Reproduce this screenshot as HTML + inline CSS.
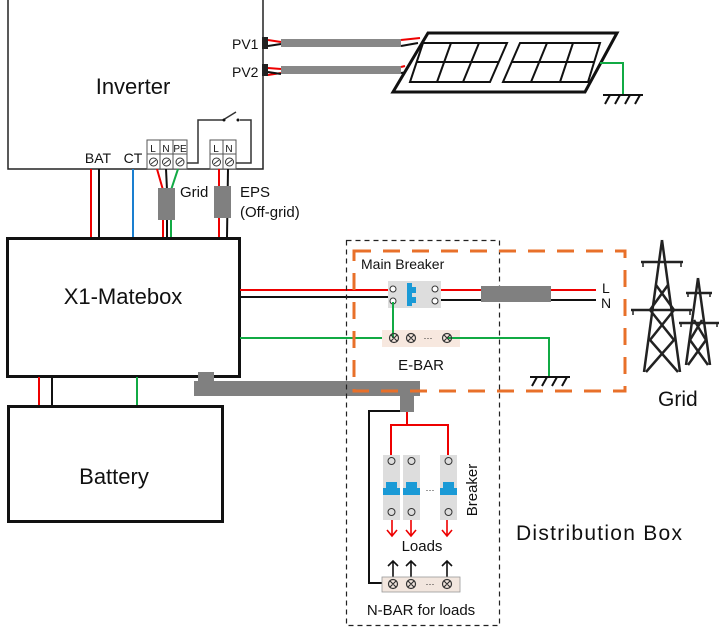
<!DOCTYPE html>
<html><head><meta charset="utf-8"><style>
html,body{margin:0;padding:0;background:#fff}
svg{display:block}
text{font-family:"Liberation Sans",sans-serif;fill:#111}
</style></head><body>
<svg width="726" height="631" viewBox="0 0 726 631" xmlns="http://www.w3.org/2000/svg">
<!-- Inverter -->
<path d="M8,0 V169 H263 V0" fill="none" stroke="#222" stroke-width="1.5"/>
<text x="133" y="94" font-size="22" text-anchor="middle">Inverter</text>
<text x="232" y="49" font-size="14">PV1</text>
<text x="232" y="77" font-size="14">PV2</text>
<rect x="262" y="37" width="6" height="12" fill="#222"/>
<rect x="262" y="64" width="6" height="12" fill="#222"/>
<path d="M268,40 L281,42 M268,75 L281,73" stroke="#e00" stroke-width="2"/>
<path d="M268,46 L281,44 M268,72 L281,74" stroke="#111" stroke-width="2"/>
<path d="M268,68 L281,69" stroke="#e00" stroke-width="2"/>
<rect x="281" y="39" width="120" height="8" fill="#888"/>
<rect x="281" y="66" width="120" height="8" fill="#888"/>
<path d="M401,40 L420,38 M401,67 L405,66" stroke="#e00" stroke-width="2"/>
<path d="M401,46 L418,43 M401,73 L408,72" stroke="#111" stroke-width="2"/>
<!-- Panel -->
<polygon points="428,33 617,33 585,92 393,92" fill="#fff" stroke="#111" stroke-width="3"/>
<g stroke="#111" stroke-width="2" fill="none">
<polygon points="423,43 507,43 490,82 410,82"/>
<line x1="416" y1="62" x2="498" y2="62"/>
<line x1="451" y1="43" x2="437" y2="82"/><line x1="479" y1="43" x2="463" y2="82"/>
<polygon points="520,43 600,43 588,82 503,82"/>
<line x1="511" y1="62" x2="594" y2="62"/>
<line x1="547" y1="43" x2="531" y2="82"/><line x1="573" y1="43" x2="560" y2="82"/>
</g>
<path d="M600,63 H623 V95" stroke="#1a4" stroke-width="2" fill="none"/>
<path d="M603,95 H643 M610,95 l-5,9 M620,95 l-5,9 M630,95 l-5,9 M640,95 l-5,9" stroke="#111" stroke-width="2" fill="none"/>
<!-- Terminal blocks -->
<g stroke="#555" stroke-width="1" fill="#fff">
<rect x="147" y="140" width="40" height="29"/><line x1="147" y1="154" x2="187" y2="154"/>
<line x1="160" y1="140" x2="160" y2="169"/><line x1="173" y1="140" x2="173" y2="169"/>
<rect x="210" y="140" width="26" height="29"/><line x1="210" y1="154" x2="236" y2="154"/>
<line x1="223" y1="140" x2="223" y2="169"/>
</g>
<g font-size="10" text-anchor="middle"><text x="153" y="152">L</text><text x="166" y="152">N</text><text x="180" y="152">PE</text><text x="216" y="152">L</text><text x="229" y="152">N</text></g>
<g stroke="#333" fill="#fff" stroke-width="1">
<circle cx="153.5" cy="162" r="4"/><circle cx="166.5" cy="162" r="4"/><circle cx="180" cy="162" r="4"/>
<circle cx="216.5" cy="162" r="4"/><circle cx="229.5" cy="162" r="4"/>
<path d="M151,164 l5,-4 M164,164 l5,-4 M177.5,164 l5,-4 M214,164 l5,-4 M227,164 l5,-4"/>
</g>
<path d="M187,163 H198 V120 H223 M223,120 L236,112 M240,120 H251 V163 H236" stroke="#333" stroke-width="1.5" fill="none"/>
<circle cx="224" cy="120" r="1.5" fill="#111"/><circle cx="238" cy="120" r="1.5" fill="#111"/>
<text x="98" y="163" font-size="14" text-anchor="middle">BAT</text>
<text x="133" y="163" font-size="14" text-anchor="middle">CT</text>
<!-- wires inverter to matebox -->
<path d="M91,169 V237" stroke="#e00" stroke-width="2"/>
<path d="M99,169 V237" stroke="#111" stroke-width="2"/>
<path d="M133,169 V237" stroke="#1a7fd0" stroke-width="2"/>
<path d="M157,169 L163,190 V237" stroke="#e00" stroke-width="2" fill="none"/>
<path d="M166,169 L167,190 V237" stroke="#111" stroke-width="2" fill="none"/>
<path d="M178,169 L171,190 V237" stroke="#1a4" stroke-width="2" fill="none"/>
<path d="M219,169 L219,237" stroke="#e00" stroke-width="2"/>
<path d="M228,169 L227,237" stroke="#111" stroke-width="2"/>
<rect x="158" y="188" width="17" height="32" fill="#808080"/>
<rect x="214" y="186" width="17" height="32" fill="#808080"/>
<text x="180" y="197" font-size="15">Grid</text>
<text x="240" y="197" font-size="15">EPS</text>
<text x="240" y="217" font-size="15">(Off-grid)</text>
<!-- Matebox -->
<rect x="7.5" y="238.5" width="232" height="138" fill="#fff" stroke="#111" stroke-width="3"/>
<text x="123" y="304" font-size="22" text-anchor="middle">X1-Matebox</text>
<path d="M240,290 H388" stroke="#e00" stroke-width="2"/>
<path d="M240,297 H388" stroke="#111" stroke-width="2"/>
<path d="M240,338 H392" stroke="#1a4" stroke-width="2"/>
<path d="M39,377 V405" stroke="#e00" stroke-width="2"/>
<path d="M52,377 V405" stroke="#111" stroke-width="2"/>
<path d="M137,377 V405" stroke="#1a4" stroke-width="2"/>
<path d="M201,377 L203,373" stroke="#111" stroke-width="2"/>
<path d="M212,377 L209,373" stroke="#e00" stroke-width="2"/>
<!-- Battery -->
<rect x="8.5" y="406.5" width="214" height="115" fill="#fff" stroke="#111" stroke-width="3"/>
<text x="114" y="484" font-size="22" text-anchor="middle">Battery</text>
<!-- gray bar -->
<rect x="198" y="372" width="16" height="10" fill="#808080"/>
<rect x="194" y="381" width="226" height="15" fill="#808080"/>
<rect x="400" y="396" width="14" height="16" fill="#808080"/>
<!-- Distribution box -->
<rect x="346.5" y="240.5" width="153" height="385" fill="none" stroke="#222" stroke-width="1.2" stroke-dasharray="5,4"/>
<rect x="354" y="251" width="271" height="140" fill="none" stroke="#e8702a" stroke-width="3" stroke-dasharray="17,12"/>
<text x="361" y="269" font-size="14">Main Breaker</text>
<!-- main breaker -->
<rect x="388" y="281" width="53" height="27" fill="#ddd"/>
<rect x="407" y="283" width="5" height="23" fill="#1a9ad6"/><rect x="411" y="287" width="5" height="6" fill="#1a9ad6"/><rect x="411" y="297" width="5" height="6" fill="#1a9ad6"/>
<g fill="#fff" stroke="#333" stroke-width="1">
<circle cx="393" cy="289" r="3"/><circle cx="393" cy="301" r="3"/><circle cx="435" cy="289" r="3"/><circle cx="435" cy="301" r="3"/>
</g>
<path d="M441,290 H596" stroke="#e00" stroke-width="2"/>
<path d="M441,300 H596" stroke="#111" stroke-width="2"/>
<rect x="481" y="286" width="70" height="16" fill="#808080"/>
<text x="602" y="293" font-size="14">L</text>
<text x="601" y="308" font-size="14">N</text>
<!-- E-BAR -->
<rect x="382" y="330" width="78" height="17" fill="#f7e8df"/>
<path d="M393,302 V338" stroke="#1a4" stroke-width="2"/>
<path d="M447,338 H549 V377" stroke="#1a4" stroke-width="2" fill="none"/>
<g fill="none" stroke="#333" stroke-width="1.2">
<circle cx="394" cy="338" r="4.5"/><circle cx="411" cy="338" r="4.5"/><circle cx="447" cy="338" r="4.5"/>
<path d="M391,335 l6,6 M397,335 l-6,6 M408,335 l6,6 M414,335 l-6,6 M444,335 l6,6 M450,335 l-6,6"/>
</g>
<text x="428" y="341" font-size="9" text-anchor="middle">···</text>
<text x="421" y="370" font-size="15" text-anchor="middle">E-BAR</text>
<path d="M530,377 H570 M537,377 l-5,9 M547,377 l-5,9 M557,377 l-5,9 M567,377 l-5,9" stroke="#111" stroke-width="2" fill="none"/>
<!-- load breakers -->
<path d="M407,412 V425 M391,455 V425 H448 V455" stroke="#e00" stroke-width="2" fill="none"/>
<path d="M400,411 H369 V583 H383" stroke="#111" stroke-width="2" fill="none"/>
<g fill="#ddd"><rect x="383" y="455" width="17" height="65"/><rect x="403" y="455" width="17" height="65"/><rect x="440" y="455" width="17" height="65"/></g>
<g fill="#1a9ad6"><rect x="383" y="488" width="17" height="7"/><rect x="386" y="482" width="11" height="7"/><rect x="403" y="488" width="17" height="7"/><rect x="406" y="482" width="11" height="7"/><rect x="440" y="488" width="17" height="7"/><rect x="443" y="482" width="11" height="7"/></g>
<g fill="none" stroke="#333" stroke-width="1">
<circle cx="391.5" cy="461" r="3.5"/><circle cx="411.5" cy="461" r="3.5"/><circle cx="448.5" cy="461" r="3.5"/>
<circle cx="391.5" cy="512" r="3.5"/><circle cx="411.5" cy="512" r="3.5"/><circle cx="448.5" cy="512" r="3.5"/>
</g>
<text x="430" y="493" font-size="9" text-anchor="middle">···</text>
<text transform="translate(477,490) rotate(-90)" font-size="15" text-anchor="middle">Breaker</text>
<g stroke="#e00" stroke-width="1.6" fill="none">
<path d="M392,520 V536 M387,530 L392,536 L397,530"/>
<path d="M411,520 V536 M406,530 L411,536 L416,530"/>
<path d="M447,520 V536 M442,530 L447,536 L452,530"/>
</g>
<text x="422" y="551" font-size="15" text-anchor="middle">Loads</text>
<g stroke="#111" stroke-width="1.6" fill="none">
<path d="M393,578 V561 M388,566 L393,561 L398,566"/>
<path d="M411,578 V561 M406,566 L411,561 L416,566"/>
<path d="M447,578 V561 M442,566 L447,561 L452,566"/>
</g>
<rect x="382" y="577" width="78" height="15" fill="#f2e6de" stroke="#999" stroke-width="0.8"/>
<g fill="none" stroke="#333" stroke-width="1.2">
<circle cx="393" cy="584" r="4.5"/><circle cx="411" cy="584" r="4.5"/><circle cx="447" cy="584" r="4.5"/>
<path d="M390,581 l6,6 M396,581 l-6,6 M408,581 l6,6 M414,581 l-6,6 M444,581 l6,6 M450,581 l-6,6"/>
</g>
<text x="430" y="587" font-size="9" text-anchor="middle">···</text>
<text x="421" y="615" font-size="15" text-anchor="middle">N-BAR for loads</text>
<text x="516" y="540" font-size="21" textLength="166">Distribution Box</text>
<text x="658" y="406" font-size="21">Grid</text>
<!-- towers -->
<g stroke="#222" stroke-width="2.5" fill="none">
<path d="M662,240 L644,372 M662,240 L680,372"/>
<path d="M656,285 L674,310 L650,340 L678,372 M668,285 L650,310 L674,340 L646,372"/>
<path d="M641,262 H683 M631,310 H692"/>
<path d="M698,278 L686,365 M698,278 L710,365"/>
<path d="M694,320 L706,340 L688,365 M702,320 L690,340 L708,365"/>
<path d="M686,293 H712 M679,323 H719"/>
</g>
<g stroke="#222" stroke-width="1.5"><path d="M643,262 v5 M681,262 v5 M633,310 v5 M690,310 v5 M688,293 v4 M710,293 v4 M681,323 v4 M717,323 v4"/></g>
</svg>
</body></html>
